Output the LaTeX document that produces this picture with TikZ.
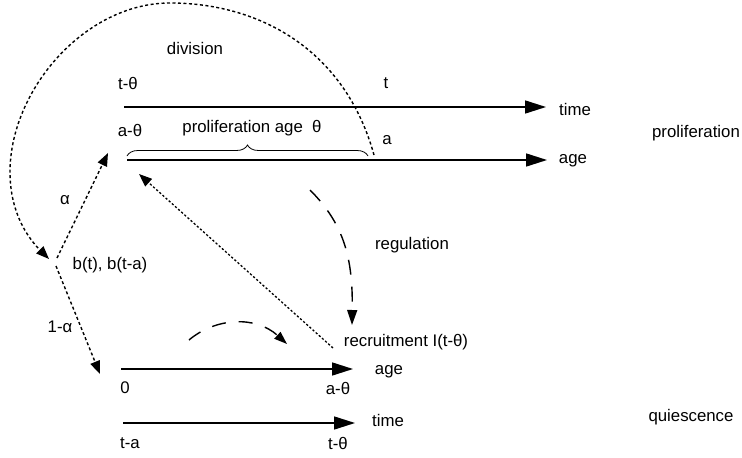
\documentclass[tikz,border=0pt]{standalone}
\usepackage{fontspec}
\setmainfont{Liberation Sans}
\usetikzlibrary{arrows.meta,decorations.pathreplacing}
\begin{document}
\begin{tikzpicture}[x=1pt,y=-1pt,
  lbl/.style={inner sep=0pt,font=\fontsize{16.8}{20}\selectfont},
  axis/.style={line width=1.6pt,-{Triangle[length=21pt,width=13pt]}},
  dots/.style={line width=1.4pt,dash pattern=on 3pt off 2.5pt,-{Triangle[length=13pt,width=10pt]}},
  fine/.style={line width=1.3pt,dash pattern=on 2.2pt off 2pt,-{Triangle[length=13pt,width=10pt]}},
  longdash/.style={line width=1.4pt,dash pattern=on 15pt off 12pt,-{Triangle[length=15pt,width=10pt]}}]
\useasboundingbox (0,0) rectangle (742,458);
% coordinates
\coordinate (ts) at (124,107); \coordinate (te) at (546,107);
\coordinate (as) at (127,160); \coordinate (ae) at (547,160);
\coordinate (qas) at (121,369); \coordinate (qae) at (353,369);
\coordinate (qts) at (123,423); \coordinate (qte) at (355,423);
\coordinate (b) at (52,262);
\coordinate (divs) at (374,155);
\coordinate (top) at (170,3);
\coordinate (left) at (10,172);
\coordinate (alphatip) at (108,153);
\coordinate (qtip) at (100,374);
\coordinate (rectip) at (139,174);
\coordinate (recs) at (333,348);
\coordinate (regs) at (310,190);
\coordinate (regtip) at (352,325);
\coordinate (arcs) at (189,340);
\coordinate (arctip) at (287,344);
% labels
\node[lbl] (tth) at (128,83) {t-θ};
\node[lbl] (t) at (386,83) {t};
\node[lbl] (time1) at (575,109) {time};
\node[lbl] (ath) at (130,130) {a-θ};
\node[lbl] (page) at (252,128) {proliferation age\ \ θ};
\node[lbl] (a) at (387,140) {a};
\node[lbl] (age1) at (573,161) {age};
\node[lbl] (prol) at (696,133) {proliferation};
\node[lbl] (div) at (195,48) {division};
\node[lbl] (al) at (65,200) {α};
\node[lbl] (bl) at (110,265) {b(t), b(t-a)};
\node[lbl] (oal) at (60,327) {1-α};
\node[lbl] (reg) at (412,245) {regulation};
\node[lbl] (rec) at (406,342) {recruitment I(t-θ)};
\node[lbl] (age2) at (389,372) {age};
\node[lbl] (zero) at (125,388) {0};
\node[lbl] (ath2) at (338,388) {a-θ};
\node[lbl] (time2) at (388,420) {time};
\node[lbl] (ta) at (130,443) {t-a};
\node[lbl] (tth2) at (338,443) {t-θ};
\node[lbl] (qui) at (691,417) {quiescence};
% axes
\draw[axis] (ts) -- (te);
\draw[axis] (as) -- (ae);
\draw[axis] (qas) -- (qae);
\draw[axis] (qts) -- (qte);
% brace
\draw[line width=0.8pt,decorate,decoration={brace,amplitude=11pt}] (127,156) -- (368,156);
% division
\draw[dots] (divs) .. controls (345,50) and (260,3) .. (top)
  .. controls (85,3) and (10,90) .. (left)
  .. controls (10,215) and (30,240) .. (49,259);
% alpha and 1-alpha
\draw[dots] (57,258) -- (alphatip);
\draw[dots] (56,266) -- (qtip);
% recruitment
\draw[fine] (recs) -- (rectip);
% regulation
\draw[longdash] (regs) .. controls (345,225) and (353,260) .. (regtip);
% small arc
\draw[line width=1.4pt,dash pattern=on 14pt off 13pt,-{Triangle[length=13pt,width=9pt]}] (arcs) .. controls (215,318) and (255,315) .. (arctip);
\end{tikzpicture}
\end{document}
